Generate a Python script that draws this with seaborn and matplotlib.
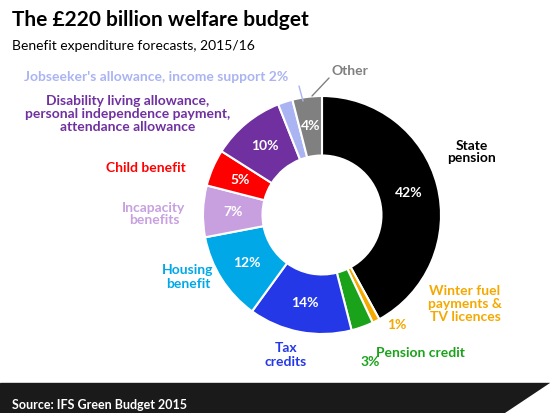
import numpy as np
import matplotlib.pyplot as plt
import seaborn as sns
from matplotlib.patches import Polygon

sns.set_theme(style="white")
plt.rcParams['font.family'] = ['Lato', 'DejaVu Sans']

categories = ["State pension", "Winter fuel payments & TV licences", "Pension credit",
              "Tax credits", "Housing benefit", "Incapacity benefits", "Child benefit",
              "Disability living allowance", "Jobseeker's allowance, income support", "Other"]
shares = [42, 1, 3, 14, 12, 7, 5, 10, 2, 4]
colors = ["#000000", "#f5a800", "#1aa31a", "#2438e8", "#00a8e8", "#c8a0e0",
          "#ff0000", "#7030a0", "#aab4f2", "#808080"]
inside = [True, False, False, True, True, True, True, True, False, True]

fig = plt.figure(figsize=(5.5, 4.13), dpi=100)
W, H = 550, 413
cx, cy, r = 322, 215, 119
ax = fig.add_axes([(cx - r) / W, 1 - (cy + r) / H, 2 * r / W, 2 * r / H])
wedges, _ = ax.pie(shares, colors=colors, startangle=90, counterclock=False, radius=1,
                   wedgeprops=dict(width=0.5, edgecolor="white", linewidth=1.5))
ax.set_xlim(-1, 1)
ax.set_ylim(-1, 1)
ax.set_aspect("equal")

start = 90
for s, ins in zip(shares, inside):
    mid = np.deg2rad(start - s * 3.6 / 2)
    start -= s * 3.6
    if ins:
        ax.text(0.75 * np.cos(mid), 0.75 * np.sin(mid), f"{s}%", color="white",
                ha="center", va="center", fontsize=10, fontweight="bold")

def lab(x, y, t, c, ha="center", size=10):
    fig.text(x / W, 1 - y / H, t, color=c, ha=ha, va="center", fontsize=size,
             fontweight="bold", linespacing=1.1)

fig.text(12 / W, 1 - 20 / H, "The £220 billion welfare budget", fontsize=15,
         fontweight="bold", va="center", color="black")
fig.text(12 / W, 1 - 46 / H, "Benefit expenditure forecasts, 2015/16", fontsize=10,
         va="center", color="black")
lab(472, 152, "State\npension", "black")
lab(465, 304, "Winter fuel\npayments &\nTV licences", "#f5a800")
lab(397, 325, "1%", "#f5a800")
lab(370, 362, "3%", "#1aa31a")
lab(420, 353, "Pension credit", "#1aa31a")
lab(286, 355, "Tax\ncredits", "#2438e8")
lab(188, 277, "Housing\nbenefit", "#00a8e8")
lab(154, 214, "Incapacity\nbenefits", "#c8a0e0")
lab(146, 168, "Child benefit", "#ff0000")
lab(128, 114, "Disability living allowance,\npersonal independence payment,\nattendance allowance", "#7030a0")
lab(156, 77, "Jobseeker's allowance, income support 2%", "#aab4f2")
lab(350, 71, "Other", "#808080")
fig.add_artist(plt.Line2D([299 / W, 303 / W], [1 - 86 / H, 1 - 101 / H], color="#aab4f2", lw=1))
fig.add_artist(plt.Line2D([329 / W, 312 / W], [1 - 78 / H, 1 - 96 / H], color="#808080", lw=1))

fig.add_artist(plt.Rectangle((0, 0), 1, 30 / H, color="#1a1a1a", transform=fig.transFigure))
fig.add_artist(Polygon([[1, 30 / H], [1, 0], [505 / W, 0]], closed=True, color="white",
                       transform=fig.transFigure))
fig.text(12 / W, 8 / H, "Source: IFS Green Budget 2015", color="white", fontsize=9,
         fontweight="bold", va="center")

fig.savefig("out.png", dpi=100)
